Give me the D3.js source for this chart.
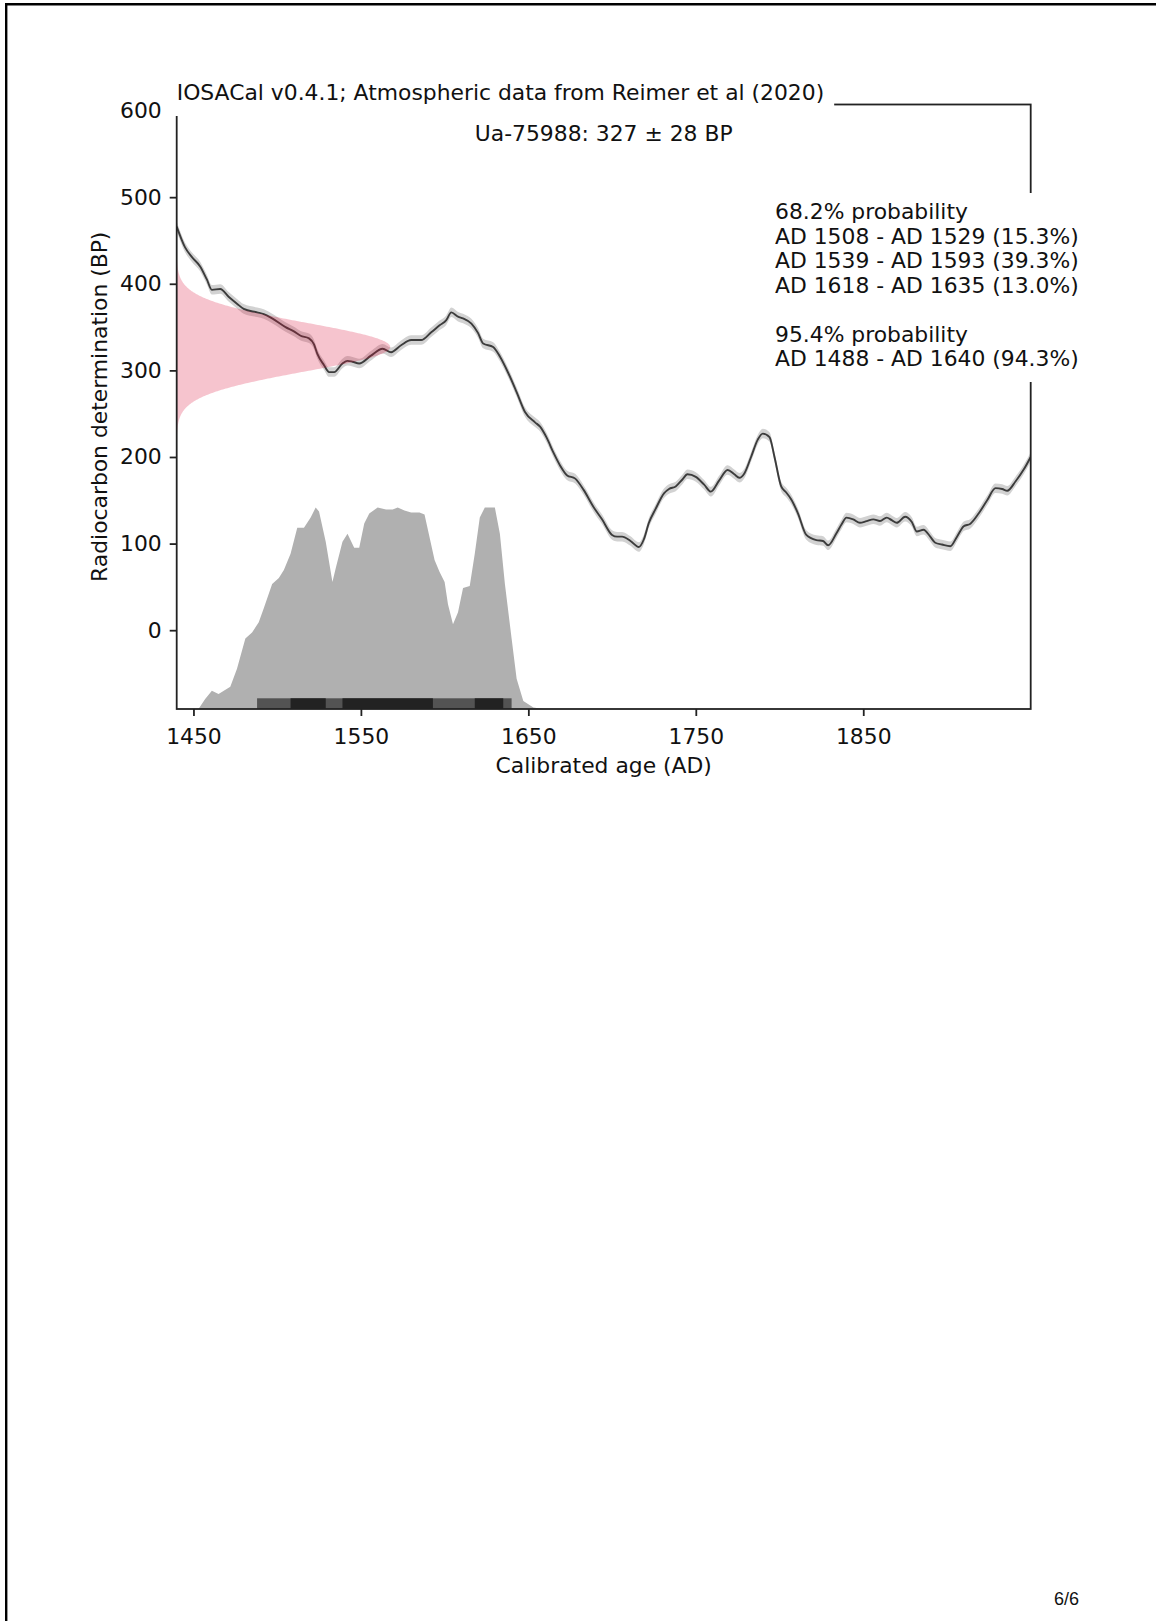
<!DOCTYPE html>
<html>
<head>
<meta charset="utf-8">
<script src="https://cdn.jsdelivr.net/npm/d3@7/dist/d3.min.js"></script>
<style>
  html, body { margin: 0; padding: 0; background: #fff; }
  svg { display: block; }
  text { font-family: "DejaVu Sans", sans-serif; fill: #111; }
</style>
</head>
<body>
<svg id="page" width="1156" height="1621"></svg>
<script>
// ---- Calibration curve (IntCal20 atmospheric), cal AD vs 14C BP ----
const curveYears = [1440,1445,1449,1454,1458,1461,1466,1471,1476,1480,1488,1492,1497,1505,1510,1514,1519,1522,1524,1528,1531,1534,1539,1542,1545,1549,1556,1563,1568,1574,1580,1586,1592,1597,1601,1604,1608,1611,1616,1620,1623,1629,1633,1638,1643,1648,1654,1657,1661,1665,1669,1673,1678,1683,1689,1694,1700,1703,1706,1711,1716,1719,1722,1726,1731,1734,1738,1742,1745,1750,1755,1759,1764,1769,1773,1776,1779,1783,1787,1790,1794,1797,1801,1804,1807,1811,1816,1822,1826,1829,1834,1837,1840,1844,1848,1852,1856,1860,1864,1867,1870,1875,1879,1882,1886,1890,1893,1897,1902,1906,1910,1914,1919,1924,1929,1933,1936,1941,1946,1950];
const curveBP    = [466,442,431,420,405,393,394,385,377,371,367,365,360,350,345,340,337,330,319,306,298,298,308,311,310,308,317,325,321,329,335,335,344,352,358,367,362,360,354,343,331,327,316,297,275,252,240,235,222,205,190,179,175,162,142,128,110,108,108,103,96,105,124,140,158,163,166,174,180,177,168,160,173,185,180,176,181,200,220,227,223,200,166,159,151,135,110,104,103,98,112,122,130,128,124,126,128,126,130,127,124,131,125,114,116,108,101,99,97,108,120,123,135,150,164,163,161,172,186,200];
const curveSigma = 5.5;

// ---- Calibrated probability distribution (relative) ----
const calYears = [1453,1457,1461,1465,1472,1476,1481,1485,1489,1492,1497,1501,1504,1508,1512,1516,1520,1523,1525,1529,1533,1535,1539,1542,1546,1549,1552,1555,1560,1565,1569,1572,1576,1580,1585,1588,1594,1597,1600,1602,1605,1608,1611,1615,1618,1621,1624,1630,1633,1636,1640,1643,1647,1653,1659];
const calProb  = [0,0.05,0.09,0.075,0.11,0.2,0.35,0.38,0.43,0.5,0.62,0.65,0.69,0.77,0.9,0.9,0.95,1.0,0.98,0.83,0.63,0.7,0.83,0.87,0.8,0.8,0.92,0.97,1.0,0.99,0.99,1.0,0.985,0.975,0.975,0.965,0.74,0.68,0.63,0.52,0.42,0.48,0.6,0.61,0.77,0.95,1.0,1.0,0.87,0.62,0.35,0.15,0.04,0.008,0];

// ---- Radiocarbon determination ----
const sampleId = "Ua-75988";
const sampleBP = 327;
const sampleErr = 28;

// ---- Highest probability density ranges ----
const hpd68 = [{from: 1508, to: 1529, p: 15.3}, {from: 1539, to: 1593, p: 39.3}, {from: 1618, to: 1635, p: 13.0}];
const hpd95 = [{from: 1488, to: 1640, p: 94.3}];

// ---- Axis ticks ----
const xTicks = [1450, 1550, 1650, 1750, 1850];
const yTicks = [0, 100, 200, 300, 400, 500, 600];

const titleText = "IOSACal v0.4.1; Atmospheric data from Reimer et al (2020)";
const pageLabel = "6/6";

// ---- Layout ----
const FS = 21.85;
const plot = {left: 176.7, right: 1030.7, top: 104.5, bottom: 709};
const svg = d3.select("#page");

const x = d3.scaleLinear().domain([1440, 1950]).range([plot.left, plot.right]);
const y = d3.scaleLinear().domain([-91, 607]).range([plot.bottom, plot.top]);

svg.append("defs").append("clipPath").attr("id", "plotClip")
  .append("rect")
  .attr("x", plot.left).attr("y", plot.top)
  .attr("width", plot.right - plot.left).attr("height", plot.bottom - plot.top);

// page frame
svg.append("line").attr("x1", 6.2).attr("x2", 6.2).attr("y1", 3.2).attr("y2", 1621)
  .attr("stroke", "#000").attr("stroke-width", 2.4);
svg.append("line").attr("x1", 5).attr("x2", 1156).attr("y1", 4.3).attr("y2", 4.3)
  .attr("stroke", "#000").attr("stroke-width", 2.4);

const g = svg.append("g").attr("clip-path", "url(#plotClip)");

// calibration curve with its error band
const curve = curveYears.map((yr, i) => ({yr, bp: curveBP[i]}));
g.append("path").datum(curve)
  .attr("d", d3.area().curve(d3.curveMonotoneX)
    .x(d => x(d.yr)).y0(d => y(d.bp - curveSigma)).y1(d => y(d.bp + curveSigma)))
  .attr("fill", "#d2d2d2");
g.append("path").datum(curve)
  .attr("d", d3.line().curve(d3.curveMonotoneX).x(d => x(d.yr)).y(d => y(d.bp)))
  .attr("fill", "none").attr("stroke", "#3c3c3c").attr("stroke-width", 1.9);

// radiocarbon determination as a normal distribution on the BP axis
const pdf = bp => Math.exp(-0.5 * ((bp - sampleBP) / sampleErr) ** 2) / (sampleErr * Math.sqrt(2 * Math.PI));
const sample = d3.range(sampleBP - 4 * sampleErr, sampleBP + 4 * sampleErr + 0.5, 0.5)
  .map(bp => ({bp, d: pdf(bp)}));
const xs = d3.scaleLinear().domain([0, 4 * pdf(sampleBP)]).range([plot.left, plot.right]);
g.append("path").datum(sample)
  .attr("d", d3.area().y(d => y(d.bp)).x0(xs(0)).x1(d => xs(d.d)))
  .attr("fill", "crimson").attr("fill-opacity", 0.25);

// calibrated age distribution
const yp = d3.scaleLinear().domain([0, 3 * d3.max(calProb)]).range([plot.bottom, plot.top]);
const cal = calYears.map((yr, i) => ({yr, p: calProb[i]}));
g.append("path").datum(cal)
  .attr("d", d3.area().x(d => x(d.yr)).y0(yp(0)).y1(d => yp(d.p)))
  .attr("fill", "#b0b0b0");

// HPD range bars along the bottom
const barH = 10.7;
g.selectAll("rect.hpd95").data(hpd95).join("rect").attr("class", "hpd95")
  .attr("x", d => x(d.from)).attr("width", d => x(d.to) - x(d.from))
  .attr("y", plot.bottom - barH).attr("height", barH).attr("fill", "#535353");
g.selectAll("rect.hpd68").data(hpd68).join("rect").attr("class", "hpd68")
  .attr("x", d => x(d.from)).attr("width", d => x(d.to) - x(d.from))
  .attr("y", plot.bottom - barH).attr("height", barH).attr("fill", "#222");

// frame of the axes
svg.append("rect")
  .attr("x", plot.left).attr("y", plot.top)
  .attr("width", plot.right - plot.left).attr("height", plot.bottom - plot.top)
  .attr("fill", "none").attr("stroke", "#222").attr("stroke-width", 1.8);

// axes
const xAxis = svg.append("g").attr("transform", `translate(0,${plot.bottom})`)
  .call(d3.axisBottom(x).tickValues(xTicks).tickFormat(d3.format("d")).tickSize(7).tickPadding(12));
const yAxis = svg.append("g").attr("transform", `translate(${plot.left},0)`)
  .call(d3.axisLeft(y).tickValues(yTicks).tickFormat(d3.format("d")).tickSize(7).tickPadding(8));
[xAxis, yAxis].forEach(a => {
  a.select(".domain").remove();
  a.attr("font-family", null).attr("font-size", null);
  a.selectAll(".tick line").attr("stroke", "#222").attr("stroke-width", 1.8);
  a.selectAll(".tick text").style("font-size", FS + "px").attr("fill", "#111");
});

// axis labels
svg.append("text")
  .attr("x", (plot.left + plot.right) / 2).attr("y", 773)
  .attr("text-anchor", "middle").style("font-size", FS + "px")
  .text("Calibrated age (AD)");
svg.append("text")
  .attr("transform", `translate(107,${(plot.top + plot.bottom) / 2}) rotate(-90)`)
  .attr("text-anchor", "middle").style("font-size", FS + "px")
  .text("Radiocarbon determination (BP)");

// sample label
svg.append("text")
  .attr("x", (plot.left + plot.right) / 2).attr("y", 141)
  .attr("text-anchor", "middle").style("font-size", FS + "px")
  .text(`${sampleId}: ${sampleBP} \u00b1 ${sampleErr} BP`);

// text with a white box behind it
function boxedText(lines, x0, y0, lh, pad) {
  const grp = svg.append("g");
  const bg = grp.append("rect").attr("fill", "#fff");
  const t = grp.append("text").style("font-size", FS + "px");
  lines.forEach((s, i) => {
    t.append("tspan").attr("x", x0).attr("y", y0 + i * lh).text(s);
  });
  const b = t.node().getBBox();
  bg.attr("x", b.x - pad.l).attr("y", b.y - pad.t)
    .attr("width", b.width + pad.l + pad.r).attr("height", b.height + pad.t + pad.b);
}

boxedText([titleText], plot.left, 100, 0, {l: 10, r: 10, t: 8, b: 11});

const fmtRange = d => `AD ${d.from} - AD ${d.to} (${d.p.toFixed(1)}%)`;
const infoLines = ["68.2% probability", ...hpd68.map(fmtRange), "", "95.4% probability", ...hpd95.map(fmtRange)];
boxedText(infoLines, 775, 219, 24.5, {l: 10, r: 10, t: 6, b: 11});

// page number
svg.append("text")
  .attr("x", 1079).attr("y", 1605).attr("text-anchor", "end")
  .style("font-family", "'Liberation Sans', Arial, sans-serif")
  .style("font-size", "18px").attr("fill", "#333")
  .text(pageLabel);
</script>
</body>
</html>
